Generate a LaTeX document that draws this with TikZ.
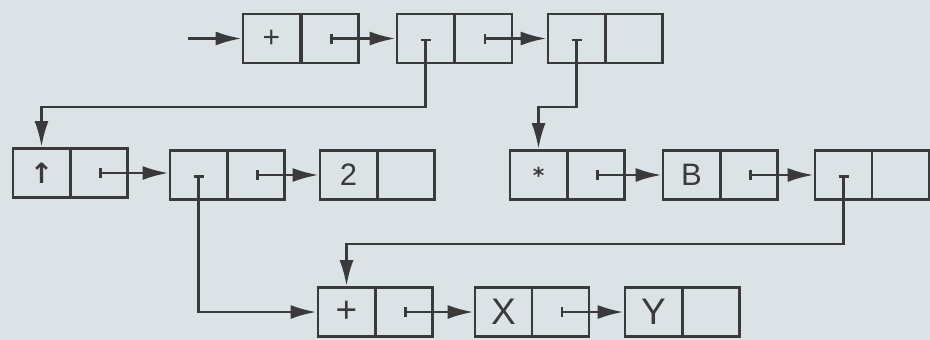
\documentclass[tikz,border=0pt]{standalone}
\usepackage{fontspec}
\setmainfont{Liberation Sans}
\newfontfamily\symfont{DejaVu Sans}
\usetikzlibrary{arrows.meta}
\definecolor{ink}{HTML}{3A3A3A}
\definecolor{paper}{HTML}{DCE3E6}
\begin{document}
\begin{tikzpicture}[x=1pt,y=-1pt,
  cell/.style={draw=ink,line width=2.8pt,minimum width=57pt,minimum height=49pt,inner sep=0pt,text=ink,font=\fontsize{31}{31}\selectfont},
  big/.style={font=\fontsize{37}{37}\selectfont},
  small/.style={font=\fontsize{30}{30}\selectfont},
  ptr/.style={draw=ink,line width=2.8pt,{Bar[width=10pt,line width=2.8pt]}-{Latex[length=26pt,width=14pt]}},
  arr/.style={draw=ink,line width=2.8pt,-{Latex[length=26pt,width=14pt]}}]
\fill[paper] (0,0) rectangle (930,340);
\useasboundingbox (0,0) rectangle (930,340);
% row 1
\node[cell,small] (b1a) at (271.5,38.5) {+};
\node[cell] (b1b) at (330,38.5) {};
\node[cell] (b2a) at (425.5,38.5) {};
\node[cell] (b2b) at (483.5,38.5) {};
\node[cell] (b3a) at (576.5,38.5) {};
\node[cell] (b3b) at (634,38.5) {};
% row 2 left
\node[cell] (b4a) at (41.5,173) {\symfont\bfseries\fontsize{28}{28}\selectfont ↑};
\node[cell] (b4b) at (99,173) {};
\node[cell] (b5a) at (198.5,175) {};
\node[cell] (b5b) at (256,175) {};
\node[cell] (b6a) at (348.5,175) {2};
\node[cell] (b6b) at (406,175) {};
% row 2 right
\node[cell] (b7a) at (538.5,175) {\symfont\bfseries\fontsize{22}{22}\selectfont\raisebox{-4pt}{*}};
\node[cell] (b7b) at (596,175) {};
\node[cell] (b8a) at (691.5,175) {B};
\node[cell] (b8b) at (749,175) {};
\node[cell] (b9a) at (843.5,175) {};
\node[cell] (b9b) at (900.5,175) {};
% row 3
\node[cell,big] (b10a) at (346.5,312) {+};
\node[cell] (b10b) at (404,312) {};
\node[cell,big] (b11a) at (503.5,312) {X};
\node[cell] (b11b) at (560.5,312) {};
\node[cell,big] (b12a) at (653.5,312) {Y};
\node[cell] (b12b) at (711,312) {};
% helper coordinates
\coordinate (in) at (188,38.5);
\coordinate (y1) at (0,107);
\coordinate (y2) at (0,244);
% connectors
\draw[arr] (in) -- (b1a);
\draw[ptr] (b1b.center) -- (b2a);
\draw[ptr] (b2b.center) -- (b3a);
\draw[ptr] (b2a.center) -- (b2a.center |- y1) -| (b4a);
\draw[ptr] (b3a.center) -- (b3a.center |- y1) -| (b7a);
\draw[ptr] (b4b.center) -- (b5a.west |- b4b.center);
\draw[ptr] (b5b.center) -- (b6a);
\draw[ptr] (b5a.center) |- (b10a);
\draw[ptr] (b7b.center) -- (b8a);
\draw[ptr] (b8b.center) -- (b9a);
\draw[ptr] (b9a.center) -- (b9a.center |- y2) -| (b10a);
\draw[ptr] (b10b.center) -- (b11a);
\draw[ptr] (b11b.center) -- (b12a);
\end{tikzpicture}
\end{document}
